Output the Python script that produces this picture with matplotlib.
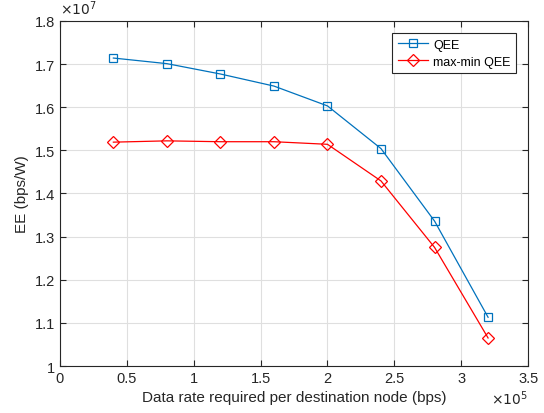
import numpy as np
import matplotlib.pyplot as plt
from matplotlib.ticker import FuncFormatter

plt.rcParams['font.family'] = ['Liberation Sans', 'DejaVu Sans']

rate = [0.4e5, 0.8e5, 1.2e5, 1.6e5, 2.0e5, 2.4e5, 2.8e5, 3.2e5]
qee = [1.714e7, 1.701e7, 1.677e7, 1.649e7, 1.603e7, 1.504e7, 1.336e7, 1.113e7]
maxmin_qee = [1.519e7, 1.522e7, 1.520e7, 1.520e7, 1.514e7, 1.429e7, 1.275e7, 1.065e7]

axcol = '#262626'

fig = plt.figure(figsize=(5.44, 4.14), dpi=100)
ax = fig.add_axes([0.110, 0.1135, 0.861, 0.8335])

ax.plot(rate, qee, color='#0072BD', marker='s', markerfacecolor='none',
        markersize=6, linewidth=0.9, markeredgewidth=0.9, label='QEE')
ax.plot(rate, maxmin_qee, color='#FF0000', marker='D', markerfacecolor='none',
        markersize=6, linewidth=0.9, markeredgewidth=0.9, label='max-min QEE')

ax.set_xlim(0, 3.5e5)
ax.set_ylim(1.0e7, 1.8e7)
ax.set_xticks(np.arange(0, 3.51e5, 0.5e5))
ax.set_yticks(np.arange(1.0e7, 1.801e7, 0.1e7))

# MATLAB style labels: no trailing zeros, exponent shown separately
ax.xaxis.set_major_formatter(FuncFormatter(lambda v, p: f'{v / 1e5:g}'))
ax.yaxis.set_major_formatter(FuncFormatter(lambda v, p: f'{v / 1e7:g}'))
ax.text(0.0, 1.01, r'$\times10^{7}$', transform=ax.transAxes, fontsize=10,
        color=axcol, ha='left', va='bottom')
ax.text(1.0, -0.065, r'$\times10^{5}$', transform=ax.transAxes, fontsize=10,
        color=axcol, ha='right', va='top')

ax.grid(True, color='#DFDFDF', linewidth=0.8)
ax.set_axisbelow(True)
ax.tick_params(direction='in', top=True, right=True, labelsize=10.5,
               colors=axcol, length=4, width=0.8)
for s in ax.spines.values():
    s.set_color(axcol)
    s.set_linewidth(0.8)

ax.set_xlabel('Data rate required per destination node (bps)', fontsize=11, color=axcol)
ax.set_ylabel('EE (bps/W)', fontsize=11, color=axcol)

leg = ax.legend(loc='upper right', bbox_to_anchor=(0.974, 0.965), borderaxespad=0,
                fontsize=9, fancybox=False, edgecolor=axcol, framealpha=1,
                borderpad=0.45, labelspacing=0.4, handlelength=2.4, handletextpad=0.4)
leg.get_frame().set_linewidth(0.8)

fig.savefig('out.png', dpi=100)
